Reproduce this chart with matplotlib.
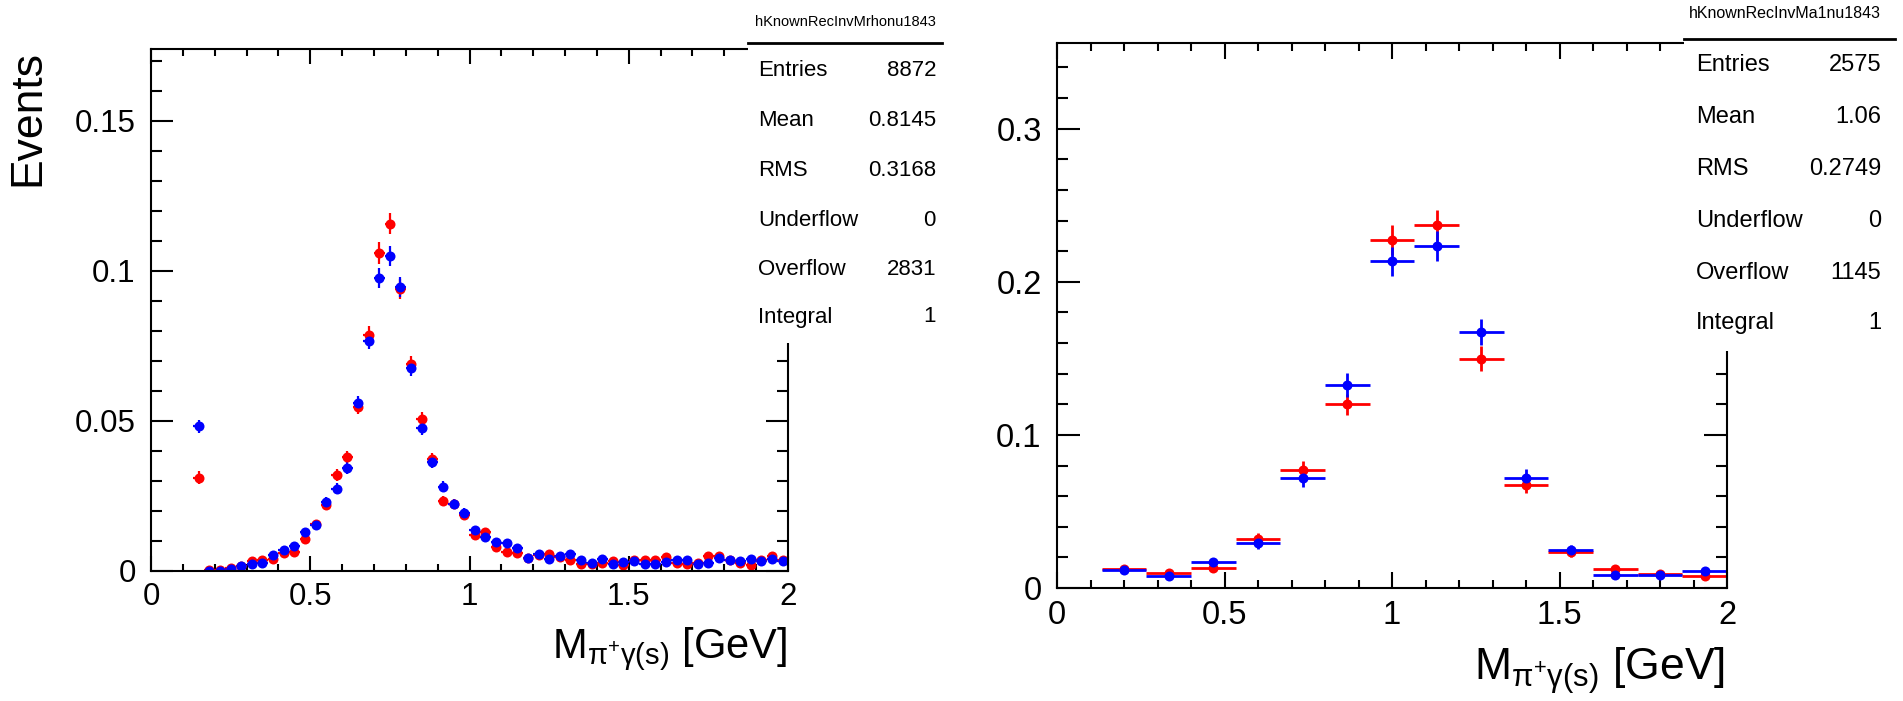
import numpy as np
import matplotlib
matplotlib.use("Agg")
import matplotlib.pyplot as plt
from matplotlib.ticker import MultipleLocator, FormatStrFormatter
from matplotlib.patches import Rectangle
from matplotlib.lines import Line2D

plt.rcParams['font.family'] = ['Liberation Sans', 'DejaVu Sans']
plt.rcParams['mathtext.fontset'] = 'custom'
plt.rcParams['mathtext.rm'] = 'Liberation Sans'
plt.rcParams['mathtext.it'] = 'Liberation Sans'
plt.rcParams['mathtext.bf'] = 'Liberation Sans:bold'

# ---- left histogram: M(pi+ gamma) around the rho, 60 bins in [0, 2] ----
rho_nbins = 60
rho_red = [0, 0, 0, 0, 0.0311, 0.0002, 0.0004, 0.0009, 0.0017, 0.0032,
           0.0036, 0.0039, 0.0060, 0.0065, 0.0107, 0.0158, 0.0221, 0.0320, 0.0380, 0.0547,
           0.0788, 0.1060, 0.1158, 0.0940, 0.0689, 0.0507, 0.0372, 0.0234, 0.0225, 0.0186,
           0.0120, 0.0130, 0.0080, 0.0064, 0.0059, 0.0044, 0.0053, 0.0058, 0.0047, 0.0036,
           0.0025, 0.0022, 0.0028, 0.0034, 0.0020, 0.0037, 0.0036, 0.0036, 0.0048, 0.0027,
           0.0022, 0.0027, 0.0049, 0.0049, 0.0038, 0.0027, 0.0019, 0.0036, 0.0049, 0.0036]
rho_red_err = [0, 0, 0, 0, 0.0021, 0.0002, 0.0002, 0.0003, 0.0004, 0.0006,
               0.0006, 0.0007, 0.0008, 0.0009, 0.0011, 0.0013, 0.0016, 0.0019, 0.0021, 0.0025,
               0.0030, 0.0035, 0.0036, 0.0033, 0.0028, 0.0024, 0.0021, 0.0016, 0.0016, 0.0015,
               0.0012, 0.0012, 0.0010, 0.0008, 0.0008, 0.0007, 0.0008, 0.0008, 0.0007, 0.0006,
               0.0005, 0.0005, 0.0006, 0.0006, 0.0005, 0.0006, 0.0006, 0.0006, 0.0007, 0.0006,
               0.0005, 0.0006, 0.0007, 0.0007, 0.0007, 0.0006, 0.0005, 0.0006, 0.0007, 0.0006]
rho_blue = [0, 0, 0, 0, 0.0482, 0.0001, 0.0001, 0.0007, 0.0018, 0.0025,
            0.0027, 0.0054, 0.0069, 0.0084, 0.0129, 0.0153, 0.0231, 0.0274, 0.0343, 0.0560,
            0.0768, 0.0976, 0.1050, 0.0946, 0.0677, 0.0477, 0.0365, 0.0281, 0.0225, 0.0194,
            0.0138, 0.0115, 0.0097, 0.0095, 0.0078, 0.0044, 0.0056, 0.0041, 0.0050, 0.0058,
            0.0038, 0.0028, 0.0041, 0.0025, 0.0029, 0.0033, 0.0025, 0.0022, 0.0030, 0.0036,
            0.0036, 0.0025, 0.0027, 0.0042, 0.0036, 0.0033, 0.0039, 0.0032, 0.0039, 0.0033]
rho_blue_err = [0, 0, 0, 0, 0.0023, 0.0001, 0.0001, 0.0003, 0.0004, 0.0005,
                0.0006, 0.0008, 0.0009, 0.0010, 0.0012, 0.0013, 0.0016, 0.0018, 0.0020, 0.0025,
                0.0029, 0.0033, 0.0034, 0.0033, 0.0028, 0.0023, 0.0020, 0.0018, 0.0016, 0.0015,
                0.0012, 0.0011, 0.0010, 0.0010, 0.0009, 0.0007, 0.0008, 0.0007, 0.0007, 0.0008,
                0.0007, 0.0006, 0.0007, 0.0005, 0.0006, 0.0006, 0.0005, 0.0005, 0.0006, 0.0006,
                0.0006, 0.0005, 0.0006, 0.0007, 0.0006, 0.0006, 0.0007, 0.0006, 0.0007, 0.0006]

# ---- right histogram: M(pi+ gamma) for a1, 15 bins in [0, 2] ----
a1_nbins = 15
a1_red = [0, 0.0125, 0.0100, 0.0130, 0.0321, 0.0772, 0.1200, 0.2272, 0.2370, 0.1499,
          0.0675, 0.0234, 0.0126, 0.0090, 0.0076]
a1_red_err = [0, 0.0023, 0.0021, 0.0024, 0.0037, 0.0055, 0.0068, 0.0096, 0.0098, 0.0079,
              0.0052, 0.0032, 0.0023, 0.0020, 0.0018]
a1_blue = [0, 0.0119, 0.0076, 0.0169, 0.0293, 0.0718, 0.1325, 0.2133, 0.2235, 0.1672,
           0.0718, 0.0249, 0.0082, 0.0082, 0.0108]
a1_blue_err = [0, 0.0023, 0.0018, 0.0027, 0.0036, 0.0055, 0.0078, 0.0096, 0.0098, 0.0083,
               0.0060, 0.0033, 0.0019, 0.0019, 0.0022]

stat_labels = ['Entries', 'Mean', 'RMS', 'Underflow', 'Overflow', 'Integral']
rho_title = 'hKnownRecInvMrhonu1843'
rho_stats = ['8872', '0.8145', '0.3168', '0', '2831', '1']
a1_title = 'hKnownRecInvMa1nu1843'
a1_stats = ['2575', '1.06', '0.2749', '0', '1145', '1']

xlabel = r'M$_{\mathrm{\pi^{+}\gamma(s)}}$ [GeV]'

W, H = 1903, 701
fig = plt.figure(figsize=(W / 100, H / 100), dpi=100)


def px_rect(l, t, r, b):
    return [l / W, 1 - b / H, (r - l) / W, (b - t) / H]


def draw_hist(ax, nbins, vals, errs, color, ms, lw):
    w = 2.0 / nbins
    x = np.arange(nbins) * w + w / 2
    vals = np.array(vals)
    errs = np.array(errs)
    keep = vals > 0
    ax.errorbar(x[keep], vals[keep], xerr=w / 2, yerr=errs[keep], fmt='o', color=color,
                ms=ms, mew=0, elinewidth=lw, capsize=0)


def style_axes(ax, ymax, ymajor, yminor, ylen, xlen, fs, xpad):
    ax.set_xlim(0, 2)
    ax.set_ylim(0, ymax)
    ax.xaxis.set_major_locator(MultipleLocator(0.5))
    ax.xaxis.set_minor_locator(MultipleLocator(0.1))
    ax.yaxis.set_major_locator(MultipleLocator(ymajor))
    ax.yaxis.set_minor_locator(MultipleLocator(yminor))
    ax.xaxis.set_major_formatter(FormatStrFormatter('%g'))
    ax.yaxis.set_major_formatter(FormatStrFormatter('%g'))
    ax.tick_params(which='both', direction='in', top=True, right=True, width=1.5,
                   labelsize=fs)
    ax.tick_params(axis='y', which='major', length=ylen, pad=11)
    ax.tick_params(axis='y', which='minor', length=ylen / 2)
    ax.tick_params(axis='x', which='major', length=xlen, pad=xpad)
    ax.tick_params(axis='x', which='minor', length=xlen / 2)
    for s in ax.spines.values():
        s.set_linewidth(1.5)


def stats_box(l, r, b, line_y, title_y, rows_y, lab_x, val_x, title, values, fs, tfs):
    fig.add_artist(Rectangle((l / W, 1 - b / H), (r - l) / W, b / H, transform=fig.transFigure,
                             facecolor='white', edgecolor='none', zorder=5))
    fig.add_artist(Line2D([l / W, r / W], [1 - line_y / H] * 2, color='black', lw=2,
                          transform=fig.transFigure, zorder=6))
    fig.text(val_x / W, 1 - title_y / H, title, ha='right', va='center', fontsize=tfs, zorder=6)
    for lab, val, y in zip(stat_labels, values, rows_y):
        fig.text(lab_x / W, 1 - y / H, lab, ha='left', va='center', fontsize=fs, zorder=6)
        fig.text(val_x / W, 1 - y / H, val, ha='right', va='center', fontsize=fs, zorder=6)


# left panel
ax1 = fig.add_axes(px_rect(151, 49, 788, 571))
draw_hist(ax1, rho_nbins, rho_red, rho_red_err, 'red', 7.2, 1.6)
draw_hist(ax1, rho_nbins, rho_blue, rho_blue_err, 'blue', 7.2, 1.6)
style_axes(ax1, 0.174, 0.05, 0.01, 16, 10.5, 22.5, 8)
fig.text(28 / W, 1 - 50 / H, 'Events', rotation=90, ha='center', va='top', fontsize=32)
fig.text(787 / W, 1 - 658 / H, xlabel, ha='right', va='baseline', fontsize=30)
stats_box(748, 942, 343, 43, 22, [70, 120, 170, 220, 269, 317], 758, 936,
          rho_title, rho_stats, 16, 10.5)

# right panel
ax2 = fig.add_axes(px_rect(1057, 43, 1727, 588))
draw_hist(ax2, a1_nbins, a1_red, a1_red_err, 'red', 7.2, 2)
draw_hist(ax2, a1_nbins, a1_blue, a1_blue_err, 'blue', 7.2, 2)
style_axes(ax2, 0.356, 0.1, 0.02, 16.5, 11.5, 23.5, 9)
fig.text(1725 / W, 1 - 680 / H, xlabel, ha='right', va='baseline', fontsize=32)
stats_box(1684, 1895, 351, 39, 14, [65, 117, 169, 221, 273, 323], 1696, 1881,
          a1_title, a1_stats, 17, 11.5)

fig.savefig('out.png', dpi=100)
